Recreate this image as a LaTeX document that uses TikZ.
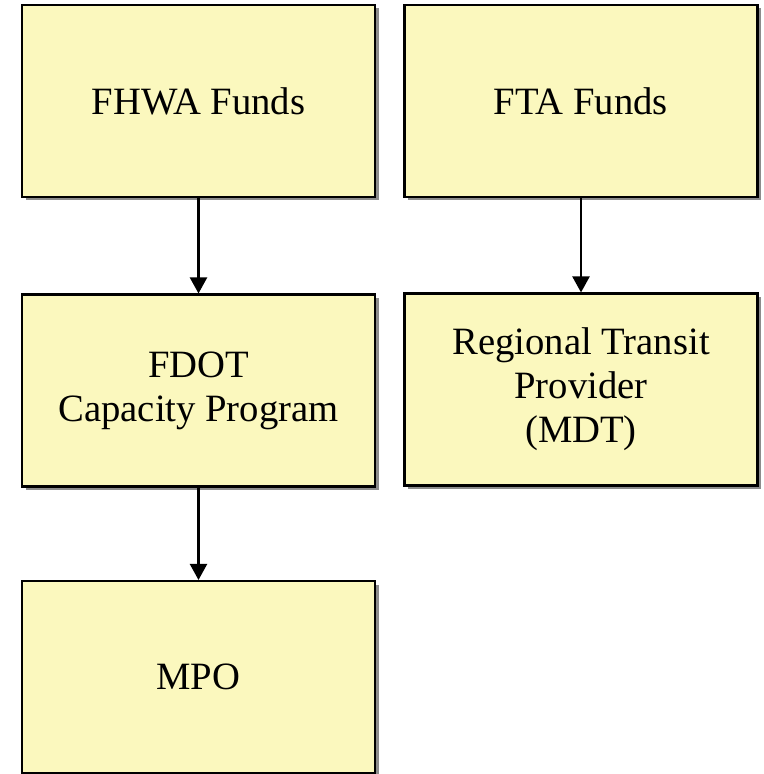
\documentclass[tikz,border=0pt]{standalone}
\usepackage{fontspec}
\setmainfont{Liberation Serif}
\usetikzlibrary{arrows.meta, positioning, shadows}
\definecolor{boxfill}{RGB}{251,248,190}

\begin{document}
\begin{tikzpicture}[
    fundbox/.style={draw, line width=1.2pt, fill=boxfill, minimum width=7.06cm, minimum height=3.84cm, align=center,
        font=\fontsize{22}{25}\selectfont,
        drop shadow={shadow xshift=0.07cm, shadow yshift=-0.07cm, fill=black!45, opacity=1}},
    flow/.style={-{Triangle[width=0.34cm, length=0.32cm]}, line width=1.3pt}]
    \useasboundingbox (0,0) rectangle (15.26,-15.48);

    % Sumber dana
    \node[fundbox] (fhwa) at (3.97,-2.02) {FHWA Funds};
    \node[fundbox] (fta) at (11.62,-2.02) {FTA Funds};

    % Program
    \node[fundbox] (fdot) at (3.97,-7.81) {FDOT\\Capacity Program};
    \node[fundbox] (mdt) at (11.62,-7.79) {Regional Transit\\Provider\\(MDT)};

    % MPO
    \node[fundbox] (mpo) at (3.97,-13.54) {MPO};

    \draw[flow] (fhwa) -- (fdot);
    \draw[flow] (fta) -- (mdt);
    \draw[flow] (fdot) -- (mpo);
\end{tikzpicture}
\end{document}
